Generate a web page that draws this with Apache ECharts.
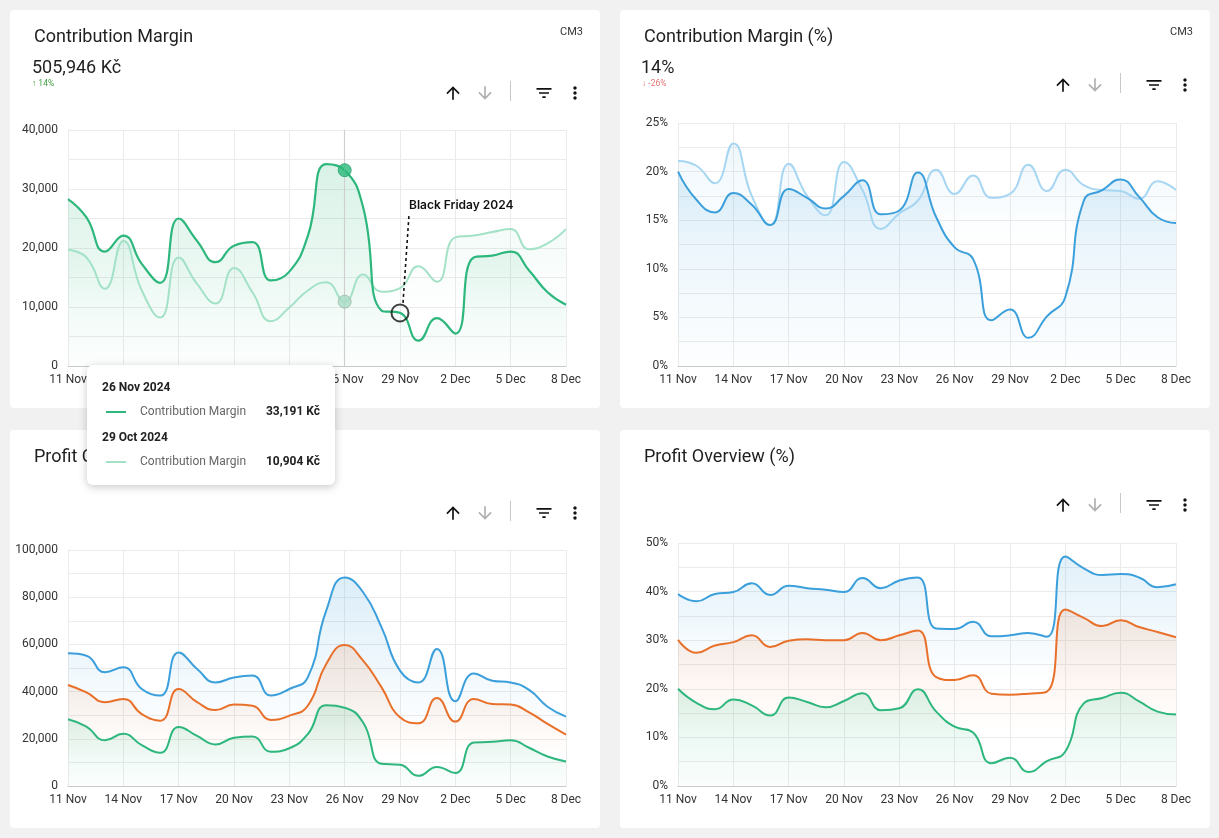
<!DOCTYPE html>
<html>
<head>
<meta charset="utf-8">
<script src="https://cdn.jsdelivr.net/npm/echarts@6/dist/echarts.min.js"></script>
<style>
  html, body { margin:0; padding:0; background:#f1f1f1; font-family: Roboto, "Noto Sans", sans-serif; }
  body { width:1219px; height:838px; position:relative; overflow:hidden; }
  .card { position:absolute; background:#fff; border-radius:4px; width:590px; height:398px; }
  .chart { position:absolute; left:0; top:0; width:590px; height:398px; }
  .title { position:absolute; left:24px; top:14px; font-size:18px; color:#1f1f1f; line-height:24px; white-space:nowrap; }
  .value { position:absolute; left:22px; top:46px; font-size:18px; color:#1f1f1f; line-height:22px; }
  .delta { position:absolute; left:22px; top:68px; font-size:8.5px; line-height:10px; }
  .tag { position:absolute; right:17px; top:15px; font-size:11px; color:#333; }
  .icons { position:absolute; width:590px; height:24px; left:0; }
  .icons svg { position:absolute; top:2px; width:20px; height:20px; }
  .sep { position:absolute; left:500px; top:0px; width:1px; height:20px; background:#c8c8c8; }
  #tip { position:absolute; left:87px; top:365px; width:248px; height:120px; background:#fff; border-radius:6px;
         box-shadow:0 2px 8px rgba(0,0,0,0.22); font-size:12px; color:#333; }
  #tip .d { position:absolute; left:15px; font-weight:bold; color:#222; font-size:12px; }
  #tip .sw { position:absolute; left:19px; width:20px; height:2px; }
  #tip .n { position:absolute; left:53px; color:#666; font-size:12px; }
  #tip .v { position:absolute; right:15px; font-weight:bold; color:#222; font-size:12px; }
</style>
</head>
<body>
<div class="card" id="c1" style="left:10px; top:10px;">
  <div class="chart" id="ch1"></div>
  <div class="title">Contribution Margin</div>
  <div class="value">505,946 Kč</div>
  <div class="delta" style="color:#43a047;">&#8593; 14%</div>
  <div class="tag">CM3</div>
  <div class="icons" style="top:71px;"></div>
</div>
<div class="card" id="c2" style="left:620px; top:10px;">
  <div class="chart" id="ch2"></div>
  <div class="title">Contribution Margin (%)</div>
  <div class="value" style="left:21px;">14%</div>
  <div class="delta" style="color:#e57373;">&#8595; -26%</div>
  <div class="tag">CM3</div>
  <div class="icons" style="top:63px;"></div>
</div>
<div class="card" id="c3" style="left:10px; top:430px;">
  <div class="chart" id="ch3"></div>
  <div class="title">Profit Overview</div>
  <div class="icons" style="top:71px;"></div>
</div>
<div class="card" id="c4" style="left:620px; top:430px;">
  <div class="chart" id="ch4"></div>
  <div class="title">Profit Overview (%)</div>
  <div class="icons" style="top:63px;"></div>
</div>
<div id="tip"></div>

<script>
// ---------- data ----------
const days = ['11 Nov','12 Nov','13 Nov','14 Nov','15 Nov','16 Nov','17 Nov','18 Nov','19 Nov','20 Nov',
  '21 Nov','22 Nov','23 Nov','24 Nov','25 Nov','26 Nov','27 Nov','28 Nov','29 Nov','30 Nov',
  '1 Dec','2 Dec','3 Dec','4 Dec','5 Dec','6 Dec','7 Dec','8 Dec'];

const cmCurrent = [28300,25200,19400,22100,17300,14100,25000,21200,17600,20400,21000,14500,16000,22000,
  34200,33191,26900,9400,9000,4300,8100,5500,18400,18700,19400,16200,12500,10400];
const cmPrevious = [19700,18400,13100,21200,12800,8200,18400,13900,10600,16600,12500,7600,9900,12800,
  14200,10904,15500,12600,13200,16900,14300,21800,22100,22700,23200,19800,20800,23200];

const cmPctCurrent = [20.0,17.1,15.8,17.8,16.6,14.5,18.2,17.3,16.2,17.5,19.1,15.6,16.0,19.9,
  15.3,12.2,11.0,4.7,5.8,2.9,5.1,7.1,17.0,18.1,19.2,17.4,15.3,14.7];
const cmPctPrevious = [21.1,20.6,18.8,22.9,17.5,14.5,20.8,17.5,15.5,21.0,18.1,14.1,15.7,17.0,
  20.2,17.7,19.6,17.3,17.7,20.7,18.0,20.2,18.6,18.1,18.0,17.2,19.0,18.1];

const profitTop = [56200,55200,48200,50300,41100,38300,56600,49600,43900,46000,46800,38300,41100,46000,
  74300,88400,82100,67200,48900,43900,58100,35900,47700,44600,43900,40700,33600,29400];
const profitMid = [42800,39700,35500,36900,30500,27700,41100,35500,32200,34500,34000,28000,29800,34000,
  51700,59700,53100,41800,29100,26600,37300,27300,36900,34700,34500,31200,26300,21800];
const profitLow = cmCurrent;

const pctTop = [39.5,38.0,39.5,39.9,41.7,39.3,41.2,40.7,40.4,39.9,42.8,40.7,42.3,42.9,
  32.4,32.3,33.8,30.8,31.0,31.5,30.7,47.2,44.8,43.4,43.6,42.9,40.9,41.5];
const pctMid = [30.1,27.4,28.9,29.6,31.0,28.6,29.9,30.2,30.0,30.0,31.5,30.0,31.0,32.0,
  22.4,21.8,22.8,19.0,18.8,19.0,19.4,36.3,34.6,32.9,34.1,32.7,31.7,30.6];
const pctLow = cmPctCurrent;

const hoverIndex = 15;
const tooltipDates = ['26 Nov 2024', '29 Oct 2024'];
const eventIndex = 18;
const eventLabel = 'Black Friday 2024';
const seriesName = 'Contribution Margin';

// ---------- colours ----------
const GREEN = '#2db77d', LGREEN = '#a3e2c7', BLUE = '#3b9fdb', LBLUE = '#a6d6f1', ORANGE = '#e8702a';

// ---------- icons ----------
const ICONS = `
<svg style="left:433px" viewBox="0 0 24 24"><path fill="#111" d="M4 12l1.41 1.41L11 7.83V20h2V7.83l5.58 5.59L20 12l-8-8-8 8z"/></svg>
<svg style="left:465px" viewBox="0 0 24 24"><path fill="#b0b0b0" d="M20 12l-1.41-1.41L13 16.17V4h-2v12.17l-5.58-5.59L4 12l8 8 8-8z"/></svg>
<div class="sep"></div>
<svg style="left:524px" viewBox="0 0 24 24"><path fill="#111" d="M10 18h4v-2h-4v2zM3 6v2h18V6H3zm3 7h12v-2H6v2z"/></svg>
<svg style="left:555px" viewBox="0 0 24 24"><path fill="#111" d="M12 8c1.1 0 2-.9 2-2s-.9-2-2-2-2 .9-2 2 .9 2 2 2zm0 2c-1.1 0-2 .9-2 2s.9 2 2 2 2-.9 2-2-.9-2-2-2zm0 6c-1.1 0-2 .9-2 2s.9 2 2 2 2-.9 2-2-.9-2-2-2z"/></svg>`;
document.querySelectorAll('.icons').forEach(e => e.innerHTML = ICONS);

// ---------- helpers ----------
function grad(color, a0, a1, stopEnd) {
  const c = echarts.color.parse(color);
  const rgba = a => `rgba(${c[0]},${c[1]},${c[2]},${a})`;
  return new echarts.graphic.LinearGradient(0, 0, 0, 1, [
    { offset: 0, color: rgba(a0) },
    { offset: stopEnd, color: rgba(a1) },
    { offset: 1, color: rgba(a1) }
  ]);
}
function line(name, data, color, width, area) {
  return {
    name, type: 'line', data, smooth: 0.5, showSymbol: false, symbol: 'none',
    lineStyle: { color, width }, itemStyle: { color },
    areaStyle: area ? { color: area, origin: 'start' } : undefined,
    z: 2, silent: true
  };
}
const fmtNum = v => v.toLocaleString('en-US');
function baseOption(top, max, interval, labelEvery, fmt) {
  return {
    animation: false,
    grid: { left: 58, right: 34, top: top, bottom: 42 },
    xAxis: {
      type: 'category', data: days, boundaryGap: false,
      axisLine: { lineStyle: { color: '#c9c9c9' } },
      axisTick: { show: false },
      axisLabel: { interval: 2, color: '#333', fontSize: 12, fontFamily: 'Roboto', margin: 8 },
      splitLine: { show: true, interval: 2, lineStyle: { color: '#ebebeb' } }
    },
    yAxis: {
      type: 'value', min: 0, max, interval,
      axisLine: { show: false }, axisTick: { show: false },
      axisLabel: { color: '#333', fontSize: 12, fontFamily: 'Roboto', margin: 10,
        formatter: v => (Math.round(v * 100) % Math.round(labelEvery * 100) === 0) ? fmt(v) : '' },
      splitLine: { lineStyle: { color: '#ebebeb' } }
    },
    series: []
  };
}

// ---------- chart 1 ----------
const ch1 = echarts.init(document.getElementById('ch1'), null, { renderer: 'canvas' });
const o1 = baseOption(120, 40000, 5000, 10000, fmtNum);
o1.series = [
  line(seriesName + ' prev', cmPrevious, LGREEN, 2, grad(GREEN, 0.08, 0.0, 0.6)),
  Object.assign(line(seriesName, cmCurrent, GREEN, 2.2, grad(GREEN, 0.26, 0.02, 1)), {
    markLine: { silent: true, symbol: 'none', label: { show: false },
      lineStyle: { color: '#cfcfcf', type: 'solid', width: 1.2 },
      data: [{ xAxis: hoverIndex }] }
  }),
  { type: 'scatter', silent: true, z: 5, symbolSize: 13,
    data: [[hoverIndex, cmPrevious[hoverIndex]]],
    itemStyle: { color: '#a8dcc5', borderColor: '#9fb8ad', borderWidth: 1 } },
  { type: 'scatter', silent: true, z: 5, symbolSize: 13,
    data: [[hoverIndex, cmCurrent[hoverIndex]]],
    itemStyle: { color: '#2cba7c', borderColor: '#25a06a', borderWidth: 1 } },
  { type: 'scatter', silent: true, z: 6, symbolSize: 17,
    data: [[eventIndex, cmCurrent[eventIndex]]],
    itemStyle: { color: 'rgba(0,0,0,0)', borderColor: '#111', borderWidth: 2 } }
];
ch1.setOption(o1);
const ep = ch1.convertToPixel({ seriesIndex: 1 }, [eventIndex, cmCurrent[eventIndex]]);
ch1.setOption({
  graphic: [
    { type: 'line', silent: true, z: 10,
      shape: { x1: ep[0] + 3, y1: ep[1] - 10, x2: ep[0] + 9, y2: ep[1] - 98 },
      style: { stroke: '#111', lineWidth: 1.6, lineDash: [3, 3] } },
    { type: 'text', silent: true, z: 10, x: ep[0] + 9, y: ep[1] - 108,
      style: { text: eventLabel, fill: '#111', font: '600 12px Inter, Roboto, sans-serif',
        textVerticalAlign: 'middle', verticalAlign: 'middle' } }
  ]
});

// ---------- chart 2 ----------
const pctFmt = v => Math.round(v) + '%';
const ch2 = echarts.init(document.getElementById('ch2'));
const o2 = baseOption(113, 25, 2.5, 5, pctFmt);
o2.series = [
  line(seriesName + ' prev', cmPctPrevious, LBLUE, 2, grad(BLUE, 0.12, 0.0, 0.45)),
  line(seriesName, cmPctCurrent, BLUE, 2, grad(BLUE, 0.22, 0.01, 1))
];
ch2.setOption(o2);

// ---------- chart 3 ----------
const ch3 = echarts.init(document.getElementById('ch3'));
const o3 = baseOption(120, 100000, 10000, 20000, fmtNum);
o3.series = [
  line('Top', profitTop, BLUE, 2, grad(BLUE, 0.26, 0.0, 0.75)),
  line('Mid', profitMid, ORANGE, 2, grad(ORANGE, 0.22, 0.0, 0.8)),
  line('Low', profitLow, GREEN, 2, grad(GREEN, 0.24, 0.02, 1))
];
ch3.setOption(o3);

// ---------- chart 4 ----------
const ch4 = echarts.init(document.getElementById('ch4'));
const o4 = baseOption(113, 50, 5, 10, pctFmt);
o4.series = [
  line('Top', pctTop, BLUE, 2, grad(BLUE, 0.22, 0.0, 0.55)),
  line('Mid', pctMid, ORANGE, 2, grad(ORANGE, 0.2, 0.0, 0.7)),
  line('Low', pctLow, GREEN, 2, grad(GREEN, 0.22, 0.03, 1))
];
ch4.setOption(o4);

// ---------- tooltip (static, from data) ----------
const tip = document.getElementById('tip');
tip.innerHTML = `
  <div class="d" style="top:15px;">${tooltipDates[0]}</div>
  <div class="sw" style="top:46px; background:${GREEN};"></div>
  <div class="n" style="top:39px;">${seriesName}</div>
  <div class="v" style="top:39px;">${fmtNum(cmCurrent[hoverIndex])} Kč</div>
  <div class="d" style="top:65px;">${tooltipDates[1]}</div>
  <div class="sw" style="top:96px; background:${LGREEN};"></div>
  <div class="n" style="top:89px;">${seriesName}</div>
  <div class="v" style="top:89px;">${fmtNum(cmPrevious[hoverIndex])} Kč</div>`;
</script>
</body>
</html>
